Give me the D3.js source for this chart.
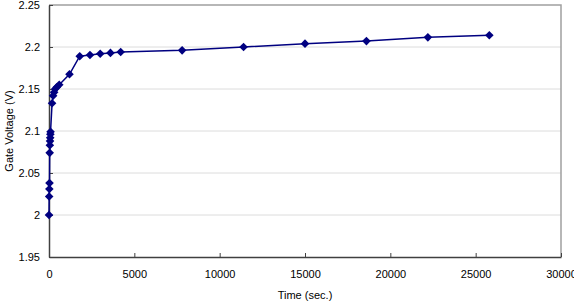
<!DOCTYPE html>
<html>
<head>
<meta charset="utf-8">
<script src="https://cdn.jsdelivr.net/npm/d3@7"></script>
<style>
  body { margin: 0; background: #fff; }
  text { font-family: "Liberation Sans", Arial, sans-serif; }
</style>
</head>
<body>
<div id="chart"></div>
<script>
var width = 574;
var height = 306;
var margin = {top: 5, right: 13, bottom: 49, left: 49};

// time in seconds, gate voltage in volts
let times = [0, 10, 20, 30, 40, 50, 60, 70, 80, 90, 180, 240, 300, 360, 450, 600,
             1200, 1800, 2400, 3000, 3600, 4200, 7800, 11400, 15000, 18600, 22200, 25800];
let volts = [2.000, 2.022, 2.031, 2.038, 2.074, 2.083, 2.088, 2.092, 2.096, 2.099, 2.133, 2.142, 2.146, 2.150, 2.152, 2.155,
             2.1675, 2.189, 2.1905, 2.192, 2.193, 2.194, 2.196, 2.200, 2.204, 2.207, 2.2115, 2.214];
let xTicks = [0, 5000, 10000, 15000, 20000, 25000, 30000];
let yTicks = [1.95, 2, 2.05, 2.1, 2.15, 2.2, 2.25];

let data = times.map((t, i) => ({t: t, v: volts[i]}));

var svg = d3.select("#chart")
            .append("svg")
              .attr("width", width).attr("height", height);

let x = d3.scaleLinear().domain([0, 30000]).range([margin.left, width - margin.right]);
let y = d3.scaleLinear().domain([1.95, 2.25]).range([height - margin.bottom, margin.top]);

// gridlines
svg.append("g").selectAll("line").data(yTicks.slice(1, -1))
    .join("line")
    .attr("x1", x(0)).attr("x2", x(30000))
    .attr("y1", d => y(d)).attr("y2", d => y(d))
    .attr("stroke", "#dcdcdc").attr("stroke-width", 1);

// frame (top / right)
svg.append("path")
    .attr("d", `M${x(0)},${y(2.25)}H${x(30000)}V${y(1.95)}`)
    .attr("fill", "none").attr("stroke", "#a0a0a0").attr("stroke-width", 1.5);

let xAxis = svg.append("g").attr("transform", `translate(0,${y(1.95)})`)
    .call(d3.axisBottom(x).tickValues(xTicks).tickFormat(d3.format("d")).tickSizeInner(-4).tickSizeOuter(0).tickPadding(13));
let yAxis = svg.append("g").attr("transform", `translate(${x(0)},0)`)
    .call(d3.axisLeft(y).tickValues(yTicks).tickFormat(d => d).tickSizeInner(-4).tickSizeOuter(0).tickPadding(9));

[xAxis, yAxis].forEach(a => {
    a.select(".domain").attr("stroke", "#404040").attr("stroke-width", 1.5);
    a.selectAll(".tick line").attr("stroke", "#404040");
    a.selectAll(".tick text").attr("font-size", 11).attr("fill", "#000");
});

// line + markers
let line = d3.line().x(d => x(d.t)).y(d => y(d.v));
svg.append("path").datum(data)
    .attr("d", line)
    .attr("fill", "none").attr("stroke", "#000080").attr("stroke-width", 1.5);

svg.append("g").selectAll("path").data(data)
    .join("path")
    .attr("transform", d => `translate(${x(d.t)},${y(d.v)})`)
    .attr("d", "M0,-4.3L4.3,0L0,4.3L-4.3,0Z")
    .attr("fill", "#000080");

// axis titles
svg.append("text")
    .attr("x", (x(0) + x(30000)) / 2).attr("y", 299)
    .attr("text-anchor", "middle").attr("font-size", 11)
    .text("Time (sec.)");

svg.append("text")
    .attr("transform", `translate(13,${(y(1.95) + y(2.25)) / 2}) rotate(-90)`)
    .attr("text-anchor", "middle").attr("font-size", 11)
    .text("Gate Voltage (V)");
</script>
</body>
</html>
